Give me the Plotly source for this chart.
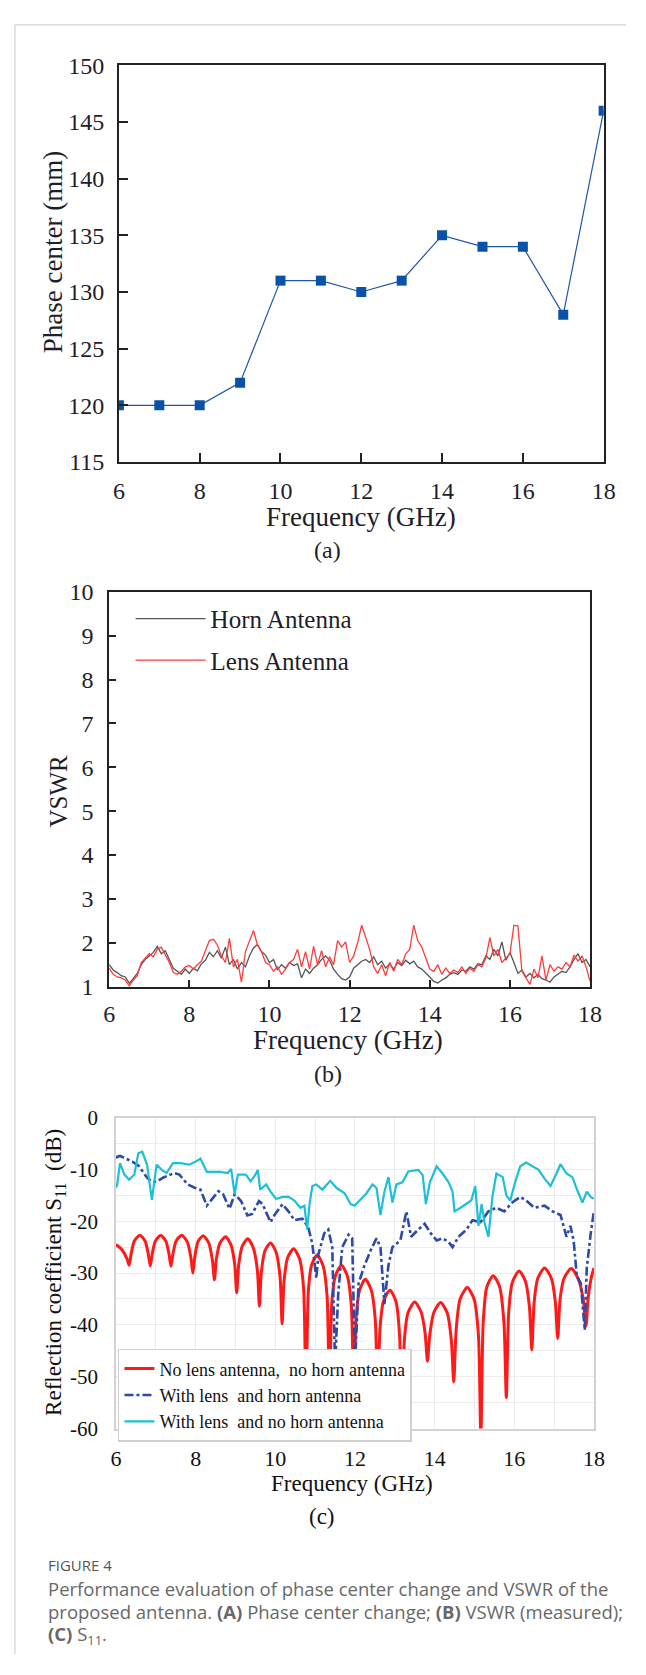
import plotly.graph_objects as go

# page is 646x1675; the browser body keeps an 8px margin, so the figure is 630x1659
PAGE_W, PAGE_H = 646, 1675
OFF = 8
W, H = PAGE_W - 2 * OFF, PAGE_H - 2 * OFF

# ---------------- Panel (a): phase center ----------------
freq_a = [6, 7, 8, 9, 10, 11, 12, 13, 14, 15, 16, 17, 18]
phase_center = [120, 120, 120, 122, 131, 131, 130, 131, 135, 134, 134, 128, 146]

# ---------------- Panel (b): VSWR ----------------
freq_b = [round(6 + 0.1 * i, 1) for i in range(121)]
vswr_horn = [
    1.50, 1.38, 1.32, 1.25, 1.22, 1.08, 1.18, 1.30, 1.50, 1.62,
    1.70, 1.78, 1.92, 1.75, 1.82, 1.62, 1.42, 1.35, 1.28, 1.40,
    1.30, 1.42, 1.36, 1.52, 1.60, 1.78, 1.68, 1.82, 1.65, 1.90,
    1.50, 1.62, 1.40, 1.55, 1.45, 1.70, 1.88, 1.96, 1.80, 1.72,
    1.55, 1.62, 1.38, 1.50, 1.42, 1.55, 1.48, 1.52, 1.20, 1.40,
    1.30, 1.42, 1.50, 1.62, 1.70, 1.60, 1.40, 1.28, 1.18, 1.15,
    1.22, 1.42, 1.50, 1.58, 1.62, 1.55, 1.68, 1.50, 1.58, 1.42,
    1.52, 1.40, 1.55, 1.48, 1.60, 1.52, 1.58, 1.45, 1.40, 1.32,
    1.22, 1.12, 1.08, 1.15, 1.20, 1.28, 1.32, 1.28, 1.38, 1.35,
    1.45, 1.40, 1.52, 1.50, 1.70, 1.62, 1.85, 1.70, 2.02, 1.60,
    1.78, 1.55, 1.30, 1.38, 1.22, 1.30, 1.20, 1.28, 1.18, 1.15,
    1.10, 1.22, 1.28, 1.35, 1.32, 1.45, 1.62, 1.75, 1.55, 1.62,
    1.45,
]
vswr_lens = [
    1.42, 1.28, 1.22, 1.20, 1.15, 1.02, 1.15, 1.25, 1.55, 1.65,
    1.75, 1.68, 1.85, 1.90, 1.72, 1.55, 1.32, 1.28, 1.35, 1.45,
    1.48, 1.40, 1.50, 1.58, 1.82, 2.05, 2.08, 1.95, 1.70, 1.55,
    2.10, 1.45, 1.62, 1.10, 1.80, 2.05, 2.28, 1.95, 1.80, 1.55,
    1.50, 1.35, 1.45, 1.28, 1.40, 1.55, 1.62, 1.85, 1.45, 1.80,
    1.40, 1.92, 1.50, 1.82, 1.45, 1.68, 1.50, 2.05, 1.90, 2.02,
    1.55, 1.70, 2.00, 2.40, 2.10, 1.85, 1.45, 1.30, 1.50, 1.25,
    1.55, 1.35, 1.62, 1.50, 1.75, 1.85, 2.40, 2.05, 1.90, 1.65,
    1.40, 1.35, 1.50, 1.28, 1.42, 1.30, 1.38, 1.32, 1.45, 1.30,
    1.42, 1.35, 1.50, 1.45, 1.65, 2.12, 1.70, 1.85, 1.55, 1.65,
    1.75, 2.40, 2.38, 1.35, 1.20, 1.05, 1.40, 1.20, 1.70, 1.15,
    1.50, 1.35, 1.45, 1.40, 1.55, 1.45, 1.72, 1.58, 1.70, 1.45,
    1.12,
]

# ---------------- Panel (c): S11 ----------------
freq_red = [
    6.00, 6.15, 6.28, 6.33,
    6.38, 6.46, 6.60, 6.73, 6.81, 6.86,
    6.91, 6.99, 7.12, 7.25, 7.33, 7.38,
    7.43, 7.51, 7.65, 7.79, 7.88, 7.93,
    7.98, 8.06, 8.19, 8.33, 8.42, 8.47,
    8.52, 8.61, 8.75, 8.89, 8.98, 9.03,
    9.08, 9.17, 9.31, 9.45, 9.55, 9.60,
    9.65, 9.74, 9.88, 10.02, 10.12, 10.17,
    10.22, 10.31, 10.46, 10.61, 10.71, 10.77,
    10.83, 10.91, 11.05, 11.20, 11.30, 11.36,
    11.42, 11.51, 11.66, 11.81, 11.91, 11.97,
    12.03, 12.12, 12.26, 12.41, 12.51, 12.57,
    12.63, 12.72, 12.88, 13.03, 13.12, 13.18,
    13.24, 13.33, 13.50, 13.66, 13.76, 13.82,
    13.88, 13.98, 14.15, 14.32, 14.42, 14.48,
    14.54, 14.64, 14.82, 14.99, 15.10, 15.16,
    15.22, 15.31, 15.47, 15.63, 15.74, 15.80,
    15.86, 15.95, 16.12, 16.28, 16.38, 16.44,
    16.50, 16.59, 16.76, 16.93, 17.03, 17.09,
    17.15, 17.25, 17.43, 17.61, 17.73, 17.80,
    17.86, 17.93, 18.00,
]
s11_red = [
    -24.5, -25.5, -27.3, -28.5,
    -26.3, -23.8, -22.7, -23.8, -26.3, -28.6,
    -26.3, -23.8, -22.7, -23.8, -26.3, -28.7,
    -26.3, -23.8, -22.7, -24.0, -27.0, -30.0,
    -26.8, -23.9, -22.8, -24.2, -27.5, -31.3,
    -27.3, -24.2, -23.0, -24.6, -28.3, -33.8,
    -28.5, -24.8, -23.4, -25.2, -29.5, -36.4,
    -29.8, -25.7, -24.2, -26.0, -30.8, -39.8,
    -31.5, -27.0, -25.3, -27.3, -33.0, -55.0,
    -33.5, -28.5, -26.5, -28.6, -34.5, -55.0,
    -35.5, -30.5, -28.5, -30.6, -36.5, -55.0,
    -38.5, -33.2, -31.2, -33.3, -39.0, -55.0,
    -40.5, -35.3, -33.3, -35.5, -42.0, -62.0,
    -43.0, -37.7, -35.6, -37.5, -41.5, -47.0,
    -41.8, -37.6, -35.7, -37.8, -43.0, -51.0,
    -41.0, -35.0, -32.8, -35.0, -42.0, -62.0,
    -39.5, -32.7, -30.5, -32.6, -39.5, -54.0,
    -37.5, -31.8, -29.6, -31.6, -36.5, -44.8,
    -35.5, -31.0, -29.0, -31.0, -35.5, -42.6,
    -35.0, -31.0, -29.1, -31.2, -35.0, -40.2,
    -34.5, -31.0, -29.0,
]

freq_blue = [
    6.00, 6.05, 6.10, 6.41, 6.58, 6.78, 6.90, 7.02, 7.18, 7.46, 7.59, 7.80,
    7.96, 8.12, 8.28, 8.45, 8.57, 8.69, 8.85, 8.98, 9.14, 9.30, 9.42, 9.59,
    9.68, 9.88, 9.98, 10.18, 10.33, 10.48, 10.68, 10.83, 10.93, 11.03, 11.08,
    11.23, 11.33, 11.43, 11.50, 11.58, 11.68, 11.84, 11.93, 12.00, 12.09,
    12.24, 12.39, 12.54, 12.64, 12.74, 12.84, 12.94, 13.14, 13.29, 13.41,
    13.59, 13.75, 13.90, 14.05, 14.20, 14.35, 14.45, 14.60, 14.80, 14.95,
    15.15, 15.35, 15.55, 15.75, 15.95, 16.15, 16.30, 16.50, 16.76, 16.96,
    17.16, 17.31, 17.41, 17.49, 17.57, 17.67, 17.77, 17.82, 17.92, 18.00,
]
s11_blue = [
    -7.8, -7.5, -7.4, -8.5, -9.4, -11.6, -12.4, -12.4, -11.6, -10.7, -11.0, -12.9,
    -13.5, -13.9, -17.0, -15.4, -14.2, -14.8, -17.6, -14.8, -16.1, -18.9, -18.6, -16.1,
    -16.7, -20.2, -18.8, -16.7, -18.1, -19.8, -19.5, -21.2, -24.4, -31.0, -26.4,
    -22.3, -21.6, -25.0, -48.0, -34.0, -25.0, -22.6, -23.3, -48.0, -32.0,
    -28.5, -25.7, -23.3, -25.0, -36.0, -28.5, -25.0, -23.7, -18.1, -23.0,
    -21.6, -20.5, -22.3, -23.7, -23.3, -24.0, -25.0, -23.0, -21.6, -19.8,
    -20.2, -18.1, -17.4, -18.1, -16.4, -15.3, -16.0, -17.4, -17.0, -18.1,
    -18.8, -23.0, -20.9, -23.7, -30.6, -32.0, -41.0, -29.0, -22.3, -18.0,
]

freq_cyan = [
    6.00, 6.03, 6.10, 6.21, 6.33, 6.46, 6.56, 6.66, 6.78, 6.90, 7.02, 7.15,
    7.27, 7.43, 7.63, 7.84, 8.00, 8.12, 8.28, 8.61, 8.81, 8.89, 8.98, 9.06,
    9.26, 9.38, 9.50, 9.56, 9.62, 9.77, 9.88, 10.02, 10.18, 10.33, 10.48,
    10.63, 10.73, 10.80, 10.86, 10.93, 11.03, 11.18, 11.38, 11.54, 11.74,
    11.89, 11.99, 12.14, 12.29, 12.44, 12.54, 12.64, 12.74, 12.84, 12.94,
    13.04, 13.19, 13.34, 13.59, 13.70, 13.78, 13.88, 14.05, 14.20, 14.35,
    14.45, 14.50, 14.65, 14.80, 14.92, 15.02, 15.10, 15.18, 15.25, 15.35,
    15.45, 15.55, 15.71, 15.80, 15.90, 16.02, 16.15, 16.30, 16.46, 16.61,
    16.76, 16.91, 17.06, 17.16, 17.31, 17.46, 17.56, 17.71, 17.82, 17.92, 18.00,
]
s11_cyan = [
    -13.5, -12.9, -8.8, -11.0, -12.0, -11.0, -6.9, -6.6, -9.1, -15.9, -9.1, -10.1,
    -10.7, -8.8, -8.8, -9.1, -8.5, -7.9, -10.5, -10.5, -10.7, -9.9, -14.8, -11.0,
    -11.0, -12.3, -11.0, -10.1, -13.9, -12.9, -14.3, -15.7, -15.3, -15.3, -16.0,
    -17.4, -17.0, -21.6, -16.7, -13.2, -12.9, -13.9, -12.2, -13.6, -14.6,
    -16.7, -17.0, -15.7, -14.6, -12.9, -13.6, -18.8, -14.3, -11.5, -16.4,
    -12.9, -12.5, -10.4, -10.1, -11.1, -16.7, -12.5, -9.4, -10.8, -12.5,
    -14.3, -18.1, -17.4, -16.7, -16.0, -13.2, -20.9, -16.7, -20.2, -23.0,
    -15.3, -10.8, -11.5, -15.0, -16.0, -12.5, -9.4, -8.7, -9.4, -10.1,
    -11.8, -13.2, -10.8, -9.0, -10.8, -11.5, -13.6, -16.4, -14.3, -15.3, -15.7,
]

# tick values / labels
ticks_x = [6, 8, 10, 12, 14, 16, 18]
ticks_a_y = [115, 120, 125, 130, 135, 140, 145, 150]
ticks_b_y = list(range(1, 11))
ticks_c_y = [0, -10, -20, -30, -40, -50, -60]
ticks_c_text = ["0", "-10", "-20", "-30", "-40", "-50", "-60"]


def PX(px):
    """page pixel -> paper fraction"""
    return (px - OFF) / W


def PY(py):
    return 1 - (py - OFF) / H


SERIF = "Liberation Serif"
INK = "#1e1e2a"

fig = go.Figure()

# (a)
fig.add_trace(go.Scatter(
    x=freq_a, y=phase_center, mode="lines+markers",
    line=dict(color="#1f57a5", width=1.2),
    marker=dict(symbol="square", size=10, color="#0a52a8"),
    xaxis="x", yaxis="y", showlegend=False,
))

# (b)
fig.add_trace(go.Scatter(
    x=freq_b, y=vswr_horn, mode="lines", name="Horn Antenna",
    line=dict(color="#555555", width=1.3), legendgroup="horn",
    xaxis="x2", yaxis="y2", legend="legend",
))
fig.add_trace(go.Scatter(
    x=freq_b, y=vswr_lens, mode="lines", name="Lens Antenna",
    line=dict(color="#ff3b3b", width=1.3), legendgroup="lens",
    xaxis="x2", yaxis="y2", legend="legend",
))

# (c)
fig.add_trace(go.Scatter(
    x=freq_red, y=s11_red, mode="lines", name="No lens antenna,  no horn antenna",
    line=dict(color="#ff1a1a", width=3, shape="spline", smoothing=0.7),
    xaxis="x3", yaxis="y3", legend="legend2",
))
fig.add_trace(go.Scatter(
    x=freq_blue, y=s11_blue, mode="lines", name="With lens  and horn antenna",
    line=dict(color="#2c4aa6", width=2.6, dash="dashdot"),
    xaxis="x3", yaxis="y3", legend="legend2",
))
fig.add_trace(go.Scatter(
    x=freq_cyan, y=s11_cyan, mode="lines", name="With lens  and no horn antenna",
    line=dict(color="#1cc0d6", width=2.2),
    xaxis="x3", yaxis="y3", legend="legend2",
))

tickfont = dict(family=SERIF, size=24, color=INK)
box_axis = dict(showline=True, linecolor="#222222", linewidth=1.6, mirror=True,
                ticks="inside", tickcolor="#222222", tickwidth=1.6,
                showgrid=False, zeroline=False, tickfont=tickfont)

layout = dict(
    width=W, height=H, margin=dict(l=0, r=0, t=0, b=0),
    paper_bgcolor="white", plot_bgcolor="white",
    font=dict(family=SERIF, color=INK),
    xaxis=dict(domain=[PX(116), PX(615)], range=[6, 18], tickvals=ticks_x,
               ticklen=9, ticklabelstandoff=6, anchor="y", **box_axis),
    yaxis=dict(domain=[PY(456), PY(53)], range=[115, 150], tickvals=ticks_a_y,
               ticklen=9, ticklabelstandoff=8, anchor="x", **box_axis),
    xaxis2=dict(domain=[PX(106), PX(601)], range=[6, 18], tickvals=ticks_x,
                ticklen=7, ticklabelstandoff=5, anchor="y2", **box_axis),
    yaxis2=dict(domain=[PY(989), PY(588)], range=[1, 10], tickvals=ticks_b_y,
                ticklen=7, ticklabelstandoff=9, anchor="x2", **box_axis),
    xaxis3=dict(domain=[PX(113), PX(605)], range=[6, 18], tickvals=ticks_x,
                showline=True, linecolor="#d2d2d2", linewidth=1.5, mirror=True,
                ticks="", showgrid=True, gridcolor="#ececec", gridwidth=1,
                minor=dict(dtick=1, showgrid=True, gridcolor="#ececec"),
                zeroline=False, ticklabelstandoff=9,
                tickfont=dict(family=SERIF, size=22, color="#111111"), anchor="y3"),
    yaxis3=dict(domain=[PY(1438), PY(1122)], range=[-60, 0], tickvals=ticks_c_y,
                ticktext=ticks_c_text,
                showline=True, linecolor="#d2d2d2", linewidth=1.5, mirror=True,
                ticks="", showgrid=True, gridcolor="#ececec", gridwidth=1,
                minor=dict(dtick=5, showgrid=True, gridcolor="#ececec"),
                zeroline=False, ticklabelstandoff=12,
                tickfont=dict(family=SERIF, size=21, color="#111111"), anchor="x3"),
    legend=dict(x=PX(128), y=PY(592), xanchor="left", yanchor="top",
                bgcolor="rgba(0,0,0,0)", borderwidth=0, tracegroupgap=6,
                font=dict(family=SERIF, size=25, color=INK), itemwidth=70),
    legend2=dict(x=PX(115), y=PY(1357), xanchor="left", yanchor="top",
                 bgcolor="white", bordercolor="#cfcfcf", borderwidth=1.5,
                 font=dict(family=SERIF, size=18, color="#111111"), itemwidth=30),
)
fig.update_layout(**layout)

ann = []


def txt(x, y, text, size, angle=0, family=SERIF, color=INK, xanchor="center", align="center"):
    ann.append(dict(x=PX(x), y=PY(y), xref="paper", yref="paper", text=text,
                    showarrow=False, textangle=angle, xanchor=xanchor, yanchor="middle",
                    align=align, font=dict(family=family, size=size, color=color)))


# axis titles and panel labels
txt(48, 243, "Phase center (mm)", 27, -90)
txt(365, 512, "Frequency (GHz)", 27)
txt(331, 545, "(a)", 24)
txt(54, 790, "VSWR", 25, -90)
txt(352, 1043, "Frequency (GHz)", 27)
txt(331, 1078, "(b)", 24)
txt(50, 1279, "Reflection coefficient S<sub>11</sub>  (dB)", 23, -90, color="#111111")
txt(356, 1494, "Frequency (GHz)", 23, color="#111111")
txt(325, 1527, "(c)", 23, color="#111111")

# caption
CAP = "Open Sans"
txt(41, 1577, "FIGURE 4", 15, family=CAP, color="#555555", xanchor="left", align="left")
txt(41, 1600, "Performance evaluation of phase center change and VSWR of the", 18.5,
    family=CAP, color="#686868", xanchor="left", align="left")
txt(41, 1624, "proposed antenna. <b>(A)</b> Phase center change; <b>(B)</b> VSWR (measured);", 18.5,
    family=CAP, color="#686868", xanchor="left", align="left")
txt(41, 1648, "<b>(C)</b> S<sub>11</sub>.", 18.5,
    family=CAP, color="#686868", xanchor="left", align="left")

fig.update_layout(annotations=ann)

# page frame
fig.update_layout(shapes=[
    dict(type="line", xref="paper", yref="paper", x0=PX(9), x1=1, y0=PY(12), y1=PY(12),
         line=dict(color="#c8c8c8", width=1)),
    dict(type="line", xref="paper", yref="paper", x0=PX(9), x1=PX(9), y0=PY(12), y1=0,
         line=dict(color="#c8c8c8", width=1)),
])

fig.write_html("out.html")
